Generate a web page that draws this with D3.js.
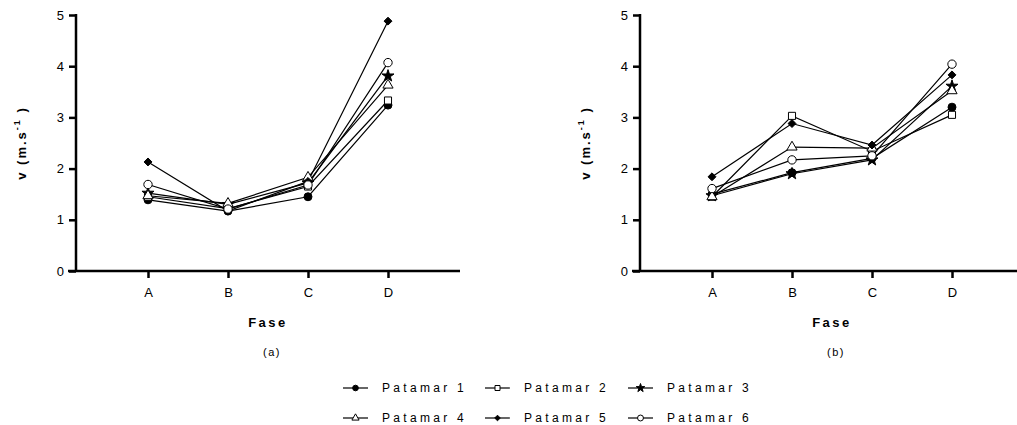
<!DOCTYPE html>
<html>
<head>
<meta charset="utf-8">
<script src="https://cdn.jsdelivr.net/npm/d3@7"></script>
<style>
  body { margin: 0; background: #fff; }
  text { font-family: "Liberation Sans", Arial, sans-serif; fill: #000; }
</style>
</head>
<body>
<svg id="chart" width="1017" height="425"></svg>
<script>
const fases = ["A", "B", "C", "D"];
const series = ["Patamar 1", "Patamar 2", "Patamar 3", "Patamar 4", "Patamar 5", "Patamar 6"];
const yTicks = [0, 1, 2, 3, 4, 5];

// panel (a)
const panelA1 = [1.39, 1.17, 1.45, 3.24];
const panelA2 = [1.45, 1.22, 1.65, 3.33];
const panelA3 = [1.52, 1.30, 1.72, 3.81];
const panelA4 = [1.47, 1.32, 1.83, 3.63];
const panelA5 = [2.13, 1.17, 1.75, 4.88];
const panelA6 = [1.69, 1.21, 1.68, 4.07];

// panel (b)
const panelB1 = [1.50, 1.92, 2.20, 3.20];
const panelB2 = [1.45, 3.03, 2.34, 3.05];
const panelB3 = [1.47, 1.90, 2.17, 3.61];
const panelB4 = [1.45, 2.42, 2.40, 3.52];
const panelB5 = [1.84, 2.88, 2.46, 3.83];
const panelB6 = [1.61, 2.17, 2.25, 4.04];

const symbols = [
  { type: d3.symbolCircle, size: 50, fill: "#000" },
  { type: d3.symbolSquare, size: 50, fill: "#fff" },
  { type: d3.symbolStar, size: 45, fill: "#000" },
  { type: d3.symbolTriangle, size: 45, fill: "#fff" },
  { type: d3.symbolDiamond2, size: 40, fill: "#000" },
  { type: d3.symbolCircle, size: 55, fill: "#fff" }
];

const svg = d3.select("#chart");

function drawPanel(x0, data, tag) {
  const x = d3.scalePoint().domain(fases).range([x0, x0 + 384]).padding(0.9);
  const y = d3.scaleLinear().domain([0, 5]).range([271, 15]);
  const g = svg.append("g");

  const yAxis = g.append("g")
    .attr("transform", "translate(" + x0 + ",0)")
    .call(d3.axisLeft(y).tickValues(yTicks).tickFormat(d3.format("d"))
      .tickSize(7).tickSizeOuter(0).tickPadding(5));
  const xAxis = g.append("g")
    .attr("transform", "translate(0,271)")
    .call(d3.axisBottom(x).tickSize(7).tickSizeOuter(0).tickPadding(10));
  [yAxis, xAxis].forEach(a => {
    a.select(".domain").attr("stroke-width", 2.5);
    a.selectAll(".tick line").attr("stroke-width", 2.5);
    a.selectAll(".tick text").attr("font-size", 13).attr("font-family", "Liberation Sans, Arial");
  });
  yAxis.select(".domain").attr("d", "M0,271V" + (15 - 1));
  xAxis.select(".domain").attr("d", "M" + (x0 - 8) + ",0H" + (x0 + 384));

  // axis titles
  const yt = g.append("text")
    .attr("transform", "translate(" + (x0 - 50) + ",143) rotate(-90)")
    .attr("text-anchor", "middle")
    .attr("font-size", 13)
    .attr("font-weight", "bold")
    .attr("letter-spacing", 2);
  yt.append("tspan").text("v (m.s");
  yt.append("tspan").attr("font-size", 9).attr("dy", -6).text("-1");
  yt.append("tspan").attr("dy", 6).text(" )");

  g.append("text")
    .attr("x", x0 + 192)
    .attr("y", 327)
    .attr("text-anchor", "middle")
    .attr("font-size", 13)
    .attr("font-weight", "bold")
    .attr("letter-spacing", 2.5)
    .text("Fase");

  g.append("text")
    .attr("x", x0 + 196)
    .attr("y", 356)
    .attr("text-anchor", "middle")
    .attr("font-size", 11)
    .attr("letter-spacing", 1.5)
    .text("(" + tag + ")");

  const line = d3.line().x((d, i) => x(fases[i])).y(d => y(d));
  data.forEach(vals => {
    g.append("path")
      .attr("d", line(vals))
      .attr("fill", "none")
      .attr("stroke", "#000")
      .attr("stroke-width", 1.2);
  });
  data.forEach((vals, s) => {
    const sym = symbols[s];
    vals.forEach((v, i) => {
      g.append("path")
        .attr("transform", "translate(" + x(fases[i]) + "," + y(v) + ")")
        .attr("d", d3.symbol().type(sym.type).size(sym.size)())
        .attr("fill", sym.fill)
        .attr("stroke", "#000")
        .attr("stroke-width", 1);
    });
  });
}

drawPanel(76, [panelA1, panelA2, panelA3, panelA4, panelA5, panelA6], "a");
drawPanel(640, [panelB1, panelB2, panelB3, panelB4, panelB5, panelB6], "b");

// legend
const legendCols = [343, 485, 628];
const legendRows = [388, 418];
series.forEach((name, s) => {
  const lx = legendCols[s % 3];
  const ly = legendRows[Math.floor(s / 3)];
  const sym = symbols[s];
  const lg = svg.append("g");
  lg.append("line")
    .attr("x1", lx).attr("x2", lx + 25)
    .attr("y1", ly).attr("y2", ly)
    .attr("stroke", "#000").attr("stroke-width", 1.2);
  lg.append("path")
    .attr("transform", "translate(" + (lx + 12.5) + "," + ly + ")")
    .attr("d", d3.symbol().type(sym.type).size(sym.size * 0.5)())
    .attr("fill", sym.fill)
    .attr("stroke", "#000")
    .attr("stroke-width", 1);
  lg.append("text")
    .attr("x", lx + 39)
    .attr("y", ly + 4)
    .attr("font-size", 12)
    .attr("letter-spacing", 3.3)
    .text(name);
});
</script>
</body>
</html>
